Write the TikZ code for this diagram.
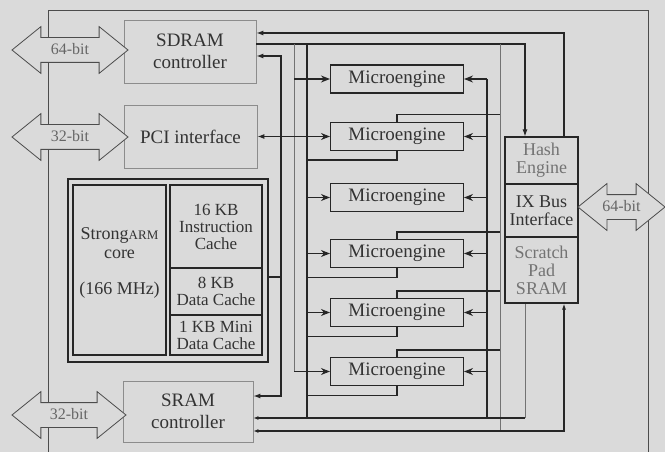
\documentclass[tikz,border=0pt]{standalone}
\usepackage{fontspec}
\setmainfont{Liberation Serif}
\usetikzlibrary{arrows.meta,shapes.arrows}
\definecolor{bg}{RGB}{218,218,218}
\begin{document}
\begin{tikzpicture}[x=1pt,y=-1pt,
  font=\fontsize{18}{18}\selectfont,
  every node/.style={inner sep=0pt, align=center, text=black!80},
  lbox/.style={draw=black!45, line width=0.8pt, fill=bg, font=\fontsize{19}{22}\selectfont},
  dbox/.style={draw=black!85, line width=1.3pt},
  mebox/.style={draw=black!85, line width=1.1pt, fill=bg, minimum width=133pt, minimum height=28pt, font=\fontsize{19}{19}\selectfont},
  cbox/.style={draw=black!85, line width=1.3pt, minimum width=92pt, font=\fontsize{17}{17}\selectfont},
  hbox/.style={draw=black!85, line width=1.1pt, minimum width=73pt, font=\fontsize{18}{18}\selectfont},
  wire/.style={draw=black!85, line width=1.1pt},
  lwire/.style={draw=black!55, line width=0.8pt},
  frame/.style={draw=black!70, line width=0.9pt},
  tip/.style={-{Stealth[length=9pt,width=7pt]}},
  bus/.style={double arrow, draw=black!70, fill=bg, line width=0.8pt,
    double arrow head extend=11pt, double arrow tip angle=78,
    text height=12pt, text depth=3pt, inner ysep=4.5pt, inner xsep=0pt,
    text=black!60, font=\fontsize{16}{16}\selectfont}
]
\fill[bg] (0,0) rectangle (665,452);
\useasboundingbox (0,0) rectangle (665,452);

% outer frame
\coordinate (F1) at (48,452); \coordinate (F2) at (48,10);
\coordinate (F3) at (648,10); \coordinate (F4) at (648,452);
\draw[frame] (F1) -- (F2) -- (F3) -- (F4);

% left blocks
\node[lbox, minimum width=132pt, minimum height=63pt] (sdram) at (190,51.5) {SDRAM\\controller};
\node[lbox, minimum width=133pt, minimum height=63pt] (pci) at (190.5,136.5) {PCI interface};
\node[lbox, minimum width=130pt, minimum height=61pt] (sram) at (188,411.5) {SRAM\\controller};

% StrongARM block
\node[dbox, minimum width=200pt, minimum height=183pt] (arm) at (168,270.5) {};
\node[dbox, minimum width=93pt, minimum height=170pt] (core) at (119.5,270) {};
\node[font=\fontsize{18}{19}\selectfont] (coretext) at (119.5,263) {Strong{\fontsize{13}{13}\selectfont ARM}\\core\\[17pt](166 MHz)};
\node[cbox, minimum height=83pt] (icache) at (216,226.5) {16 KB\\Instruction\\Cache};
\node[cbox, minimum height=47pt] (dcache) at (216,291.5) {8 KB\\Data Cache};
\node[cbox, minimum height=40pt] (mcache) at (216,335) {1 KB Mini\\Data Cache};

% microengines
\foreach \i/\y in {1/79,2/136.5,3/197.5,4/253.5,5/312.5,6/371.5}
  \node[mebox] (me\i) at (397,\y) {Microengine};

% IX block
\node[hbox, minimum height=47pt, text=black!55] (hash) at (541.5,160.5) {Hash\\Engine};
\node[hbox, minimum height=53pt] (ix) at (541.5,210.5) {IX Bus\\Interface};
\node[hbox, minimum height=66pt, text=black!55] (scratch) at (541.5,270) {Scratch\\Pad\\SRAM};

% bus coordinates
\coordinate (A1) at (281,56);  \coordinate (A2) at (281,396); \coordinate (A3) at (281,277);
\coordinate (B0) at (294,44);  \coordinate (B1) at (294,371.5);
\coordinate (C0) at (307,44);  \coordinate (C1) at (307,418);
\coordinate (D0) at (487,79);  \coordinate (D1) at (487,418);
\coordinate (E0) at (500,44);  \coordinate (E1) at (500,431);
\coordinate (T1) at (564,33);  \coordinate (T2) at (525,44);
\coordinate (S1) at (525,418); \coordinate (S2) at (564,431);

% SDRAM top links to hash engine
\draw[wire, {Latex[length=7pt,width=5pt]}-] (sdram.east |- T1) -- (T1) -- (T1 |- hash.north);
\draw[wire, -{Latex[length=7pt,width=5pt]}] (sdram.east |- T2) -- (T2) -- (T2 |- hash.north);

% bus A : SDRAM <-> SRAM, StrongARM
\draw[wire, {Latex[length=7pt,width=5pt]}-{Latex[length=7pt,width=5pt]}] (sdram.east |- A1) -- (A1) -- (A2) -- (sram.east |- A2);
\draw[wire] (A3 -| arm.east) -- (A3);

% bus B
\draw[lwire] (B0) -- (B1);
\draw[wire, tip] (B0 |- me1.west) -- (me1.west);
\draw[wire, tip] (B1) -- (me6.west |- B1);

% bus C
\draw[wire] (C0) -- (C1);
\foreach \i in {3,4,5} \draw[wire, tip] (C0 |- me\i.west) -- (me\i.west);

% PCI <-> ME2
\draw[wire, {Latex[length=7pt,width=5pt]}-{Stealth[length=9pt,width=7pt]}] (pci.east) -- (me2.west);

% right buses
\draw[wire] (D0) -- (D1);
\foreach \i in {1,...,6} \draw[wire, tip] (D0 |- me\i.east) -- (me\i.east);
\draw[lwire] (E0) -- (E1);

% brackets
\foreach \i in {2,4,5,6} {
  \draw[wire] (me\i.north) -- ++(0,-7) coordinate (u\i) -- (u\i -| E0);
  \draw[wire] (me\i.south) -- ++(0,9) coordinate (l\i) -- (l\i -| C0);
}

% SRAM bottom links
\draw[wire, {Latex[length=5pt,width=4pt]}-] (sram.east |- S1) -- (S1);
\draw[lwire] (S1) -- (S1 |- scratch.south);
\draw[wire, {Latex[length=5pt,width=4pt]}-{Latex[length=6pt,width=4pt]}] (sram.east |- S2) -- (S2) -- (S2 |- scratch.south);

% external buses
\node[bus, minimum height=116pt] (bus1) at (70,50) {64-bit};
\node[bus, minimum height=116pt] (bus2) at (70,137) {32-bit};
\node[bus, minimum height=114pt] (bus3) at (69,415) {32-bit};
\node[bus, minimum height=87pt] (bus4) at (621.5,207) {64-bit};
\end{tikzpicture}
\end{document}
